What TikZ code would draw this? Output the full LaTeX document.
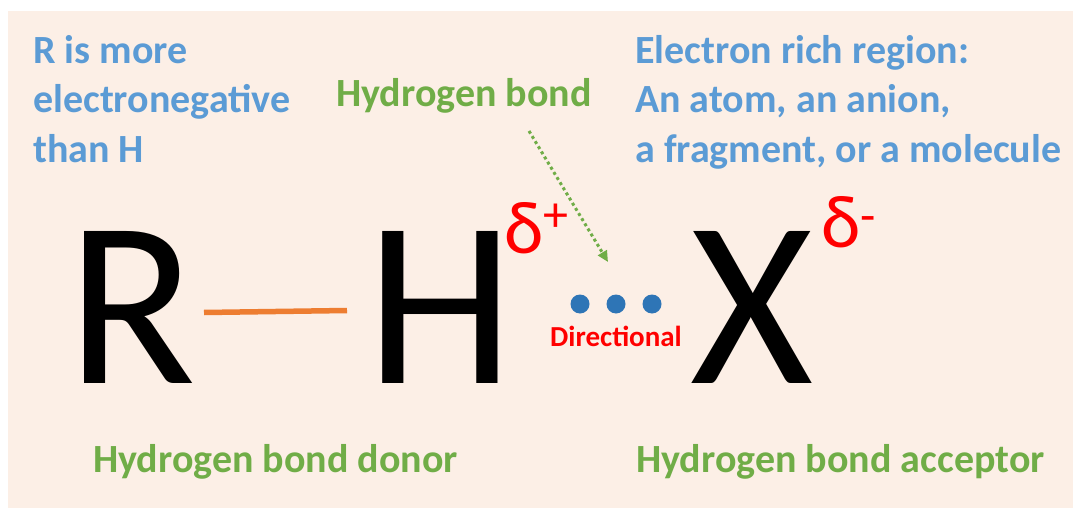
\documentclass[tikz,border=0pt]{standalone}
\usepackage{fontspec}
\setmainfont{Carlito}
\definecolor{mPaper}{RGB}{252,239,230}
\definecolor{mBlue}{RGB}{91,155,213}
\definecolor{mGreen}{RGB}{112,173,71}
\definecolor{mOrange}{RGB}{237,125,49}
\definecolor{mDot}{RGB}{46,117,182}
\usetikzlibrary{arrows.meta,positioning}

\begin{document}
\begin{tikzpicture}[x=1pt,y=-1pt,
    note/.style={inner sep=0pt, anchor=base west, align=left,
      font=\bfseries\fontsize{40}{49.5}\selectfont},
    atom/.style={inner sep=0pt, anchor=base, font=\fontsize{237}{237}\selectfont},
    charge/.style={inner sep=0pt, anchor=base west, red, font=\fontsize{75}{75}\selectfont},
    hdot/.style={circle, fill=mDot, inner sep=0pt, minimum size=19pt}]
    \useasboundingbox (0,0) rectangle (1073,508);
    \fill[mPaper] (8,11) rectangle (1073,508);

    % notes on top (base anchor sits on the last line)
    \node[note, mBlue] (donornote) at (33,162) {R is more\\electronegative\\than H};
    \node[note, mBlue] (acceptnote) at (635,162) {Electron rich region:\\An atom, an anion,\\a fragment, or a molecule};
    \node[note, mGreen] (hbond) at (336,107) {Hydrogen bond};

    % the atoms
    \node[atom] (R) at (132,383) {R};
    \node[atom] (H) at (440,383) {H};
    \node[atom] (X) at (752,383) {X};
    \node[charge] (dplus) at (504,253) {δ\raisebox{22pt}{\fontsize{50}{50}\selectfont+}};
    \node[charge] (dminus) at (821,247) {δ\raisebox{15pt}{\fontsize{50}{50}\selectfont-}};

    % covalent bond
    \coordinate (bondL) at (204,312.5);
    \coordinate (bondR) at (347,310.5);
    \draw[mOrange, line width=5.5pt] (bondL) -- (bondR);

    % the hydrogen bond itself
    \foreach \i/\x in {1/580,2/616,3/652}
      \node[hdot] (dot\i) at (\x,304) {};
    \node[inner sep=0pt, anchor=base, red, font=\bfseries\fontsize{29}{29}\selectfont] (dir) at (616,346) {Directional};

    \coordinate (arrFrom) at (529,131);
    \coordinate (arrTo) at (608,262);
    \draw[mGreen, line width=3pt, dash pattern=on 3pt off 3pt,
      -{Triangle[length=11pt,width=10pt]}] (arrFrom) -- (arrTo);

    % roles
    \node[note, mGreen] (donor) at (93,472) {Hydrogen bond donor};
    \node[note, mGreen] (acceptor) at (636,472) {Hydrogen bond acceptor};
  \end{tikzpicture}
\end{document}
